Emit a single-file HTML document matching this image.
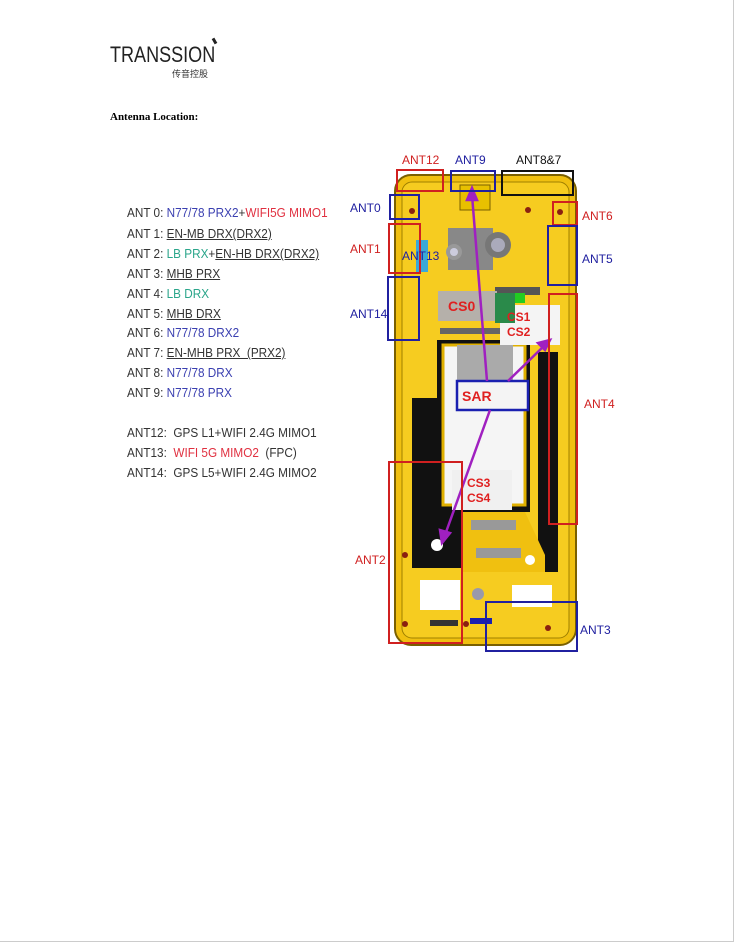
<!DOCTYPE html>
<html><head><meta charset="utf-8"><style>
body{margin:0;background:#fff;width:734px;height:942px;overflow:hidden;font-family:"Liberation Sans",sans-serif}
.pg{position:absolute;left:0;top:0;width:733px;height:941px;border-right:1px solid #ccc;border-bottom:1px solid #ccc}
.l{position:absolute;left:127px;font-size:12.5px;color:#333;white-space:nowrap;transform:scaleX(0.94);transform-origin:0 0}
.b{color:#3a3fb0}.r{color:#e03040}.g{color:#2aa58a}.u{text-decoration:underline}
</style></head><body><div class="pg"></div>
<div style="position:absolute;left:110px;top:42px;font-size:22px;color:#222;transform:scaleX(0.82);transform-origin:0 0">TRANSSION</div>
<div style="position:absolute;left:213px;top:38px;width:3px;height:6px;background:#222;transform:rotate(-30deg)"></div>
<div style="position:absolute;left:172px;top:67px;font-size:9px;color:#333;font-family:'Noto Sans CJK SC',sans-serif">传音控股</div>
<div style="position:absolute;left:110px;top:111px;font-size:11px;font-weight:bold;font-family:'Liberation Serif',serif">Antenna Location:</div>
<div class="l" style="top:206px">ANT 0: <span class="b">N77/78 PRX2</span>+<span class="r">WIFI5G MIMO1</span></div>
<div class="l" style="top:227px">ANT 1: <span class="u">EN-MB DRX(DRX2)</span></div>
<div class="l" style="top:247px">ANT 2: <span class="g">LB PRX</span>+<span class="u">EN-HB DRX(DRX2)</span></div>
<div class="l" style="top:267px">ANT 3: <span class="u">MHB PRX</span></div>
<div class="l" style="top:287px">ANT 4: <span class="g">LB DRX</span></div>
<div class="l" style="top:307px">ANT 5: <span class="u">MHB DRX</span></div>
<div class="l" style="top:326px">ANT 6: <span class="b">N77/78 DRX2</span></div>
<div class="l" style="top:346px">ANT 7: <span class="u">EN-MHB PRX &nbsp;(PRX2) </span></div>
<div class="l" style="top:366px">ANT 8: <span class="b">N77/78 DRX</span></div>
<div class="l" style="top:386px">ANT 9: <span class="b">N77/78 PRX</span></div>
<div class="l" style="top:426px">ANT12: &nbsp;GPS L1+WIFI 2.4G MIMO1</div>
<div class="l" style="top:446px">ANT13: &nbsp;<span class="r">WIFI 5G MIMO2</span> &nbsp;(FPC)</div>
<div class="l" style="top:466px">ANT14: &nbsp;GPS L5+WIFI 2.4G MIMO2</div>
<svg style="position:absolute;left:0;top:0" width="734" height="942" font-family="Liberation Sans,sans-serif" font-size="12">
<rect x="395" y="175" width="181" height="470" rx="16" fill="#f0c010" stroke="#7a6000" stroke-width="2"/>
<rect x="402" y="182" width="167" height="456" rx="10" fill="#f6cc20" stroke="#a08000"/>
<rect x="412" y="398" width="52" height="170" fill="#111"/>
<rect x="437" y="340" width="93" height="172" fill="#111"/>
<rect x="443" y="345" width="82" height="160" fill="#f5f5f5" stroke="#e0b000" stroke-width="3"/>
<rect x="538" y="352" width="20" height="220" fill="#111"/>
<path d="M463 512 L525 512 L545 555 L545 572 L463 572 Z" fill="#f0c010"/>
<rect x="471" y="520" width="45" height="10" fill="#999"/><rect x="476" y="548" width="45" height="10" fill="#999"/>
<rect x="457" y="345" width="56" height="64" fill="#aaa"/>
<circle cx="437" cy="545" r="6" fill="#fff"/><circle cx="530" cy="560" r="5" fill="#fff"/>
<rect x="420" y="580" width="40" height="30" fill="#fff"/><rect x="512" y="585" width="40" height="22" fill="#fff"/>
<circle cx="478" cy="594" r="6" fill="#99a"/>
<rect x="470" y="618" width="22" height="6" fill="#1a20b0"/>
<rect x="430" y="620" width="28" height="6" fill="#333"/>
<rect x="448" y="228" width="45" height="42" fill="#888"/><circle cx="498" cy="245" r="13" fill="#777"/><circle cx="498" cy="245" r="7" fill="#aab"/>
<circle cx="454" cy="252" r="8" fill="#999"/><circle cx="454" cy="252" r="4" fill="#ccd"/>
<rect x="460" y="185" width="30" height="25" fill="#e8c000" stroke="#7a6000"/>
<rect x="495" y="287" width="45" height="8" fill="#555"/>
<rect x="440" y="328" width="60" height="6" fill="#666"/>
<rect x="416" y="240" width="12" height="32" fill="#3aa8d8"/>
<rect x="438" y="291" width="59" height="30" fill="#b5b0aa"/>
<text x="448" y="311" fill="#e02020" font-weight="bold" font-size="14">CS0</text>
<rect x="500" y="305" width="60" height="40" fill="#f4f4f4"/>
<rect x="495" y="293" width="20" height="30" fill="#2a8a4a"/><rect x="515" y="293" width="10" height="10" fill="#2c2"/>
<text x="507" y="321" fill="#e02020" font-weight="bold" font-size="12">CS1</text>
<text x="507" y="336" fill="#e02020" font-weight="bold" font-size="12">CS2</text>
<rect x="452" y="470" width="60" height="40" fill="#f0f0f0"/>
<text x="467" y="487" fill="#e02020" font-weight="bold" font-size="12">CS3</text>
<text x="467" y="502" fill="#e02020" font-weight="bold" font-size="12">CS4</text>
<g fill="#8a2010"><circle cx="405" cy="555" r="3"/><circle cx="405" cy="624" r="3"/><circle cx="466" cy="624" r="3"/><circle cx="548" cy="628" r="3"/><circle cx="412" cy="211" r="3"/><circle cx="560" cy="212" r="3"/><circle cx="528" cy="210" r="3"/></g>
<rect x="457" y="381" width="71" height="29" fill="#f4f4f4" stroke="#1a20b0" stroke-width="2.5"/>
<text x="462" y="401" fill="#e02020" font-weight="bold" font-size="14">SAR</text>
<g stroke="#a020c0" stroke-width="2.5" fill="#a020c0">
<line x1="487" y1="381" x2="472" y2="195"/><path d="M472 188 L467 200 L477 200Z"/>
<line x1="508" y1="381" x2="545" y2="345"/><path d="M550 340 L538 343 L545 350Z"/>
<line x1="490" y1="410" x2="445" y2="535"/><path d="M442 543 L440 530 L450 533Z"/>
</g>
<g fill="none" stroke-width="2">
<rect x="397" y="170" width="46" height="21" stroke="#d02020"/>
<rect x="451" y="171" width="44" height="20" stroke="#2020a0"/>
<rect x="502" y="171" width="71" height="24" stroke="#111"/>
<rect x="390" y="195" width="29" height="24" stroke="#2020a0"/>
<rect x="553" y="202" width="24" height="23" stroke="#d02020"/>
<rect x="389" y="224" width="31" height="49" stroke="#d02020"/>
<rect x="548" y="226" width="29" height="59" stroke="#2020a0"/>
<rect x="388" y="277" width="31" height="63" stroke="#2020a0"/>
<rect x="549" y="294" width="28" height="230" stroke="#d02020"/>
<rect x="389" y="462" width="73" height="181" stroke="#d02020"/>
<rect x="486" y="602" width="91" height="49" stroke="#2020a0"/>
</g>
<text x="402" y="164" fill="#d02020">ANT12</text>
<text x="455" y="164" fill="#2020a0">ANT9</text>
<text x="516" y="164" fill="#111">ANT8&amp;7</text>
<text x="350" y="212" fill="#2020a0">ANT0</text>
<text x="582" y="220" fill="#d02020">ANT6</text>
<text x="350" y="253" fill="#d02020">ANT1</text>
<text x="402" y="260" fill="#2020a0">ANT13</text>
<text x="582" y="263" fill="#2020a0">ANT5</text>
<text x="350" y="318" fill="#2020a0">ANT14</text>
<text x="584" y="408" fill="#d02020">ANT4</text>
<text x="355" y="564" fill="#d02020">ANT2</text>
<text x="580" y="634" fill="#2020a0">ANT3</text>
</svg>
</body></html>
